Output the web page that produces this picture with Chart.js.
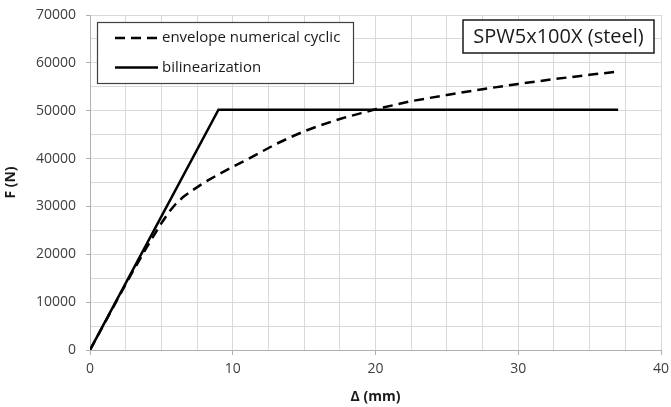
<!DOCTYPE html>
<html>
<head>
<meta charset="utf-8">
<script src="https://cdn.jsdelivr.net/npm/chart.js@4.4.1/dist/chart.umd.min.js"></script>
<style>
    body { margin: 0; background: #ffffff; }
    #wrap { width: 671px; height: 407px; }
</style>
</head>
<body>
<div id="wrap"><canvas id="chart" width="671" height="407"></canvas></div>
<script>
// envelope from the cyclic numerical analysis (mm, N)
const envX = [0, 1, 2, 3, 4, 5, 5.5, 6, 6.5, 7, 8, 9, 10, 11, 12, 13, 14, 15, 16, 17, 18, 19, 20, 22.5, 25, 27.5, 30, 32.5, 35, 36.8];
const envF = [0, 5500, 11000, 16400, 21600, 26500, 28700, 30500, 31900, 33000, 35000, 36700, 38300, 39800, 41400, 43000, 44400, 45700, 46800, 47800, 48700, 49500, 50300, 52000, 53300, 54500, 55600, 56600, 57500, 58100];

// bilinear idealisation
const bilX = [0, 9, 37];
const bilF = [0, 50200, 50200];

const seriesNames = ["envelope numerical cyclic", "bilinearization"];
const boxTitle = "SPW5x100X (steel)";
const xTitle = "Δ (mm)";
const yTitle = "F (N)";

const FONT = "'Open Sans', sans-serif";

function toPoints(xs, ys) {
    return xs.map((x, i) => ({ x: x, y: ys[i] }));
}

// legend drawn inside the plot, top left, with a frame
const boxLegend = {
    id: "boxLegend",
    afterDatasetsDraw(chart) {
        const ctx = chart.ctx;
        const left = 97, top = 22, w = 256, h = 61;
        ctx.save();
        ctx.fillStyle = "#ffffff";
        ctx.fillRect(left, top, w, h);
        ctx.strokeStyle = "#404040";
        ctx.lineWidth = 1.2;
        ctx.strokeRect(left + 0.5, top + 0.5, w, h);
        ctx.font = "15px " + FONT;
        ctx.textBaseline = "middle";
        chart.data.datasets.forEach((ds, i) => {
            let y = top + 16 + i * 29.5;
            ctx.strokeStyle = ds.borderColor;
            ctx.lineWidth = ds.borderWidth;
            ctx.setLineDash(ds.borderDash || []);
            ctx.beginPath();
            ctx.moveTo(115, y);
            ctx.lineTo(158, y);
            ctx.stroke();
            ctx.setLineDash([]);
            ctx.fillStyle = "#1a1a1a";
            ctx.fillText(ds.label, 162, y);
        });
        ctx.restore();
    }
};

// framed label at the top right
const boxLabel = {
    id: "boxLabel",
    afterDatasetsDraw(chart) {
        const ctx = chart.ctx;
        const left = 463, top = 20, w = 191, h = 33;
        ctx.save();
        ctx.fillStyle = "#ffffff";
        ctx.fillRect(left, top, w, h);
        ctx.strokeStyle = "#1a1a1a";
        ctx.lineWidth = 1.5;
        ctx.strokeRect(left, top, w, h);
        ctx.font = "20px " + FONT;
        ctx.fillStyle = "#1a1a1a";
        ctx.textAlign = "center";
        ctx.textBaseline = "middle";
        ctx.fillText(boxTitle, left + w / 2, top + h / 2 + 1);
        ctx.restore();
    }
};

new Chart(document.getElementById("chart").getContext("2d"), {
    type: "scatter",
    data: {
        datasets: [{
            label: seriesNames[0],
            data: toPoints(envX, envF),
            showLine: true,
            borderColor: "#000000",
            borderWidth: 2.5,
            borderDash: [10, 6],
            pointRadius: 0,
            fill: false
        }, {
            label: seriesNames[1],
            data: toPoints(bilX, bilF),
            showLine: true,
            borderColor: "#000000",
            borderWidth: 2.5,
            pointRadius: 0,
            fill: false
        }]
    },
    options: {
        responsive: false,
        animation: false,
        layout: { padding: { left: 0, right: 10, top: 15, bottom: 0 } },
        plugins: {
            legend: { display: false },
            tooltip: { enabled: false }
        },
        scales: {
            x: {
                type: "linear",
                min: 0,
                max: 40,
                afterFit: scale => {
                    scale.height = 57;
                    scale.paddingLeft = 0;
                    scale.paddingRight = 0;
                },
                ticks: {
                    stepSize: 2.5,
                    autoSkip: false,
                    maxRotation: 0,
                    padding: 6,
                    color: "#404040",
                    font: { family: FONT, size: 14 },
                    callback: v => (v % 10 === 0 ? v : "")
                },
                grid: {
                    color: "#d9d9d9",
                    lineWidth: 1,
                    tickLength: 5,
                    tickColor: c => (c.tick && c.tick.value % 10 === 0 ? "#b0b0b0" : "rgba(0,0,0,0)")
                },
                border: { color: "#b0b0b0", width: 1 },
                title: {
                    display: true,
                    text: xTitle,
                    color: "#1a1a1a",
                    font: { family: FONT, size: 14, weight: "bold" },
                    padding: { top: 0, bottom: 2 }
                }
            },
            y: {
                type: "linear",
                min: 0,
                max: 70000,
                afterFit: scale => {
                    scale.width = 90;
                    scale.paddingTop = 0;
                    scale.paddingBottom = 0;
                },
                ticks: {
                    stepSize: 5000,
                    autoSkip: false,
                    padding: 10,
                    color: "#404040",
                    font: { family: FONT, size: 14 },
                    callback: v => (v % 10000 === 0 ? v : "")
                },
                grid: {
                    color: "#d9d9d9",
                    lineWidth: 1,
                    tickLength: 4,
                    tickColor: c => (c.tick && c.tick.value % 10000 === 0 ? "#b0b0b0" : "rgba(0,0,0,0)")
                },
                border: { color: "#b0b0b0", width: 1 },
                title: {
                    display: true,
                    text: yTitle,
                    color: "#1a1a1a",
                    font: { family: FONT, size: 14, weight: "bold" },
                    padding: { top: 3, bottom: 0 }
                }
            }
        }
    },
    plugins: [boxLegend, boxLabel]
});
</script>
</body>
</html>
